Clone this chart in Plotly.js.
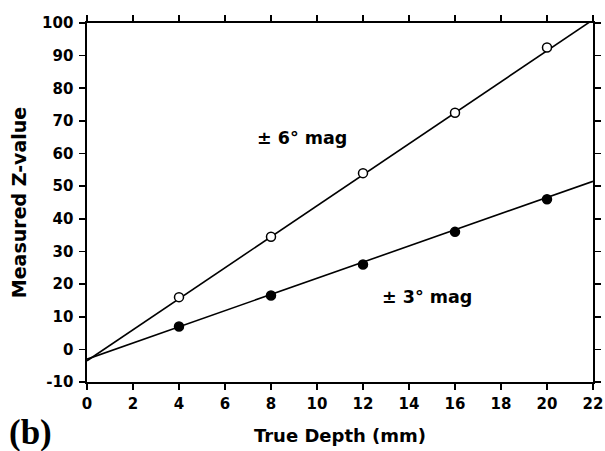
<!DOCTYPE html>
<html><head><meta charset="utf-8">
<script src="https://cdn.plot.ly/plotly-3.0.1.min.js"></script>
<style>html,body{margin:0;padding:0;background:#fff}#c{width:605px;height:451px}</style>
</head><body><div id="c"></div>
<script>
const depth = [4, 8, 12, 16, 20];
const z6 = [16, 34.5, 54, 72.5, 92.5];
const z3 = [7, 16.5, 26, 36, 46];
const fitX = [0, 22];
const fit6 = [-3.5, 101];
const fit3 = [-3, 51.5];
const xTicks = [0,2,4,6,8,10,12,14,16,18,20,22];
const yTicks = [-10,0,10,20,30,40,50,60,70,80,90,100];

const F = 'DejaVu Sans';
const bold = v => '<b>' + v + '</b>';
const traces = [
  {x: fitX, y: fit6, mode: 'lines', line: {color: '#000', width: 1.6}, hoverinfo: 'skip'},
  {x: fitX, y: fit3, mode: 'lines', line: {color: '#000', width: 1.6}, hoverinfo: 'skip'},
  {x: depth, y: z6, mode: 'markers', marker: {symbol: 'circle', size: 9, color: '#fff', line: {color: '#000', width: 1.5}}},
  {x: depth, y: z3, mode: 'markers', marker: {symbol: 'circle', size: 9, color: '#000', line: {color: '#000', width: 1.5}}}
];
function axisBase() {
  return {showgrid: false, zeroline: false, showline: true, linecolor: '#000', linewidth: 1.6,
    ticks: 'outside', ticklen: 6, tickwidth: 1.6, tickcolor: '#000', mirror: 'ticks',
    tickfont: {family: F, size: 15, color: '#000', weight: 'bold'}};
}
const titleFont = {family: F, size: 18, color: '#000', weight: 'bold'};
const layout = {
  width: 605, height: 451,
  font: {family: F, size: 15, color: '#000', weight: 'bold'},
  margin: {l: 87, r: 12, t: 23, b: 69},
  paper_bgcolor: '#fff', plot_bgcolor: '#fff',
  showlegend: false,
  xaxis: Object.assign(axisBase(), {range: [0, 22], tickmode: 'array', tickvals: xTicks, ticktext: xTicks.map(bold), ticklabelstandoff: 1,
    title: {text: 'True Depth (mm)', font: titleFont, standoff: 18}}),
  yaxis: Object.assign(axisBase(), {range: [-10, 100], tickmode: 'array', tickvals: yTicks, ticktext: yTicks.map(bold), ticklabelstandoff: 3,
    title: {text: 'Measured Z-value', font: Object.assign({}, titleFont, {size: 19}), standoff: 10}}),
  annotations: [
    {x: 9.35, y: 64.7, xref: 'x', yref: 'y', text: '± 6° mag', showarrow: false, font: Object.assign({}, titleFont, {size: 17.5})},
    {x: 14.8, y: 16, xref: 'x', yref: 'y', text: '± 3° mag', showarrow: false, font: Object.assign({}, titleFont, {size: 17.5})},
    {x: -0.158, y: -0.14, xref: 'paper', yref: 'paper', xanchor: 'left', yanchor: 'middle', text: '(b)', showarrow: false,
     font: {family: 'Liberation Serif', size: 35, color: '#000', weight: 'bold'}}
  ]
};
Plotly.newPlot('c', traces, layout, {displayModeBar: false, staticPlot: true});
</script></body></html>
